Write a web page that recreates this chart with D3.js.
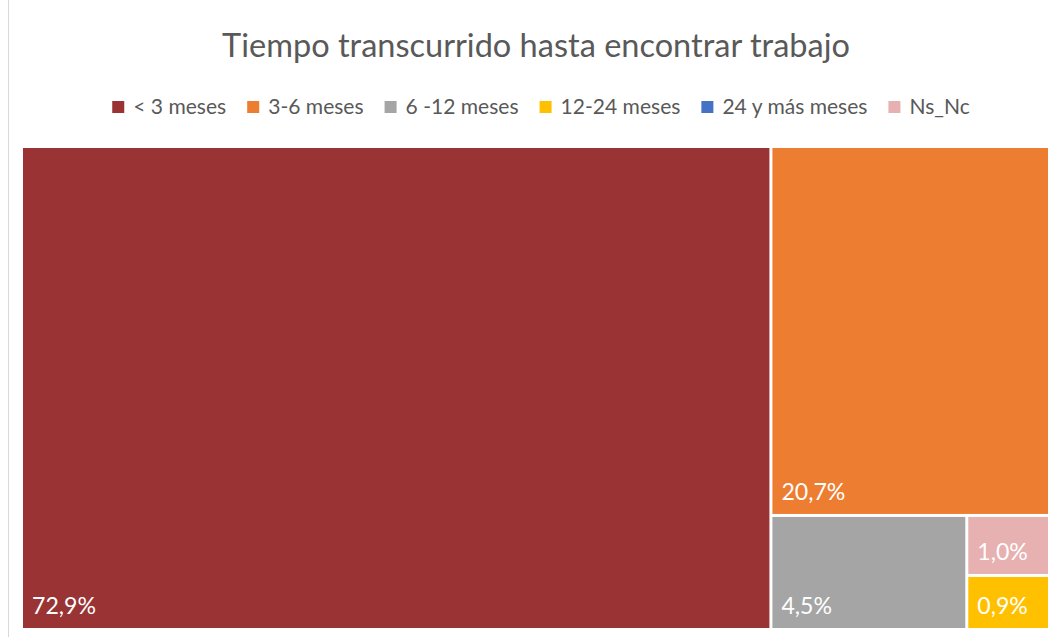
<!DOCTYPE html>
<html><head><meta charset="utf-8">
<script src="https://cdn.jsdelivr.net/npm/d3@7"></script>
<style>body{margin:0;background:#fff}svg{display:block}</style>
</head><body><svg id="c" width="1049" height="637"></svg>
<script>
const categories = ["< 3 meses","3-6 meses","6 -12 meses","12-24 meses","24 y más meses","Ns_Nc"];
const values = [72.9, 20.7, 4.5, 0.9, 0.0, 1.0];
const labels = ["72,9%","20,7%","4,5%","0,9%","0,0%","1,0%"];
const colors = ["#993334","#ED7D31","#A5A5A5","#FFC000","#4472C4","#E6B1B0"];
const title = "Tiempo transcurrido hasta encontrar trabajo";

const svg = d3.select("#c");
const font = "Lato, 'Open Sans', sans-serif";

function fitSize(txt, target, base){
  const t = svg.append("text").attr("font-family",font).attr("font-size",base).text(txt);
  const w = t.node().getComputedTextLength(); t.remove();
  return base*target/w;
}

svg.append("line").attr("x1",8.5).attr("x2",8.5).attr("y1",0).attr("y2",637)
  .attr("stroke","#d9d9d9").attr("stroke-width",1);

svg.append("text").attr("x",536).attr("y",57).attr("text-anchor","middle")
  .attr("font-family",font).attr("font-size",fitSize(title,628,28)).attr("fill","#595959").text(title);

// legend
const legSize = fitSize(categories[0], 93, 18);
const lg = svg.append("g");
let x = 0;
categories.forEach((c,i)=>{
  const g = lg.append("g").attr("transform",`translate(${x},0)`);
  g.append("rect").attr("x",0).attr("y",-6).attr("width",12).attr("height",12).attr("fill",colors[i]);
  const t = g.append("text").attr("x",21).attr("y",6.5).attr("font-family",font)
    .attr("font-size",legSize).attr("fill","#595959").text(c);
  x += 21 + t.node().getComputedTextLength() + 21;
});
x -= 21;
lg.attr("transform",`translate(${(110+972)/2 - x/2},107)`);

// treemap
const root = d3.hierarchy({children: categories.map((c,i)=>({name:c,value:values[i],label:labels[i],color:colors[i]})).filter(d=>d.value>0)})
  .sum(d=>d.value||0).sort((a,b)=>b.value-a.value);
d3.treemap().tile(d3.treemapSquarify.ratio(1)).size([1025,480]).paddingInner(3).round(false)(root);
const labSize = fitSize(labels[0], 64, 20);
const tg = svg.append("g").attr("transform","translate(23,148)");
const cell = tg.selectAll("g").data(root.leaves()).join("g");
cell.append("rect").attr("x",d=>d.x0).attr("y",d=>d.y0)
  .attr("width",d=>d.x1-d.x0).attr("height",d=>d.y1-d.y0).attr("fill",d=>d.data.color);
cell.append("text").attr("x",d=>d.x0+9).attr("y",d=>d.y1-14)
  .attr("font-family",font).attr("font-size",labSize).attr("fill","#fff").text(d=>d.data.label);
</script></body></html>
